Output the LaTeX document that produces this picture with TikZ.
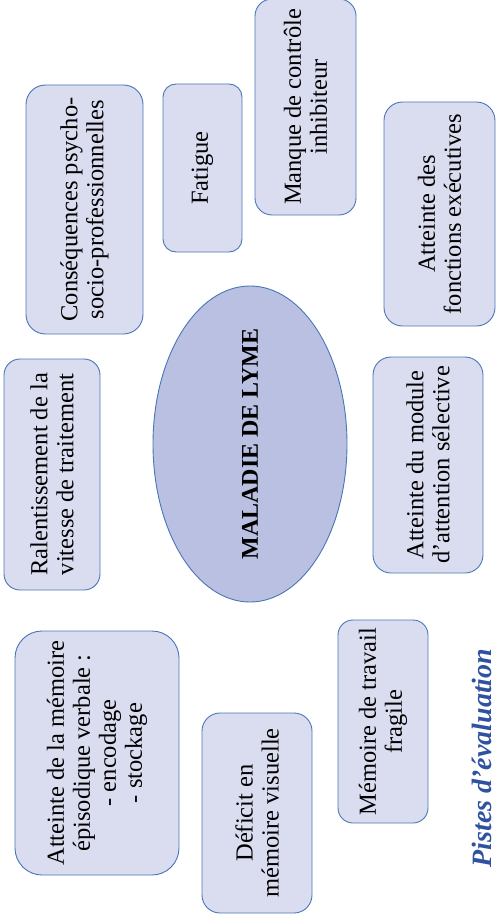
\documentclass[tikz,border=0pt]{standalone}
\usepackage{fontspec}
\setmainfont{Liberation Serif}
\usetikzlibrary{shapes.geometric}
\definecolor{boxfill}{HTML}{DADCEF}
\definecolor{ellfill}{HTML}{B9C0E2}
\definecolor{edge}{HTML}{4A76B8}
\definecolor{titleblue}{HTML}{2F52A0}
\tikzset{
  box/.style={draw=edge, line width=0.9pt, fill=boxfill, rotate=90, align=center,
    inner sep=0pt, font=\fontsize{24.5}{26}\selectfont},
  centre/.style={draw=edge, line width=0.9pt, fill=ellfill, ellipse, inner sep=0pt,
    minimum width=194pt, minimum height=316pt},
  heading/.style={rotate=90, inner sep=0pt, text=titleblue, font=\fontsize{28}{30}\selectfont\bfseries\itshape}
}
\begin{document}
\begin{tikzpicture}[x=1pt,y=-1pt]
\useasboundingbox (0,0) rectangle (496,923);
\node[box, minimum width=249pt, minimum height=117pt, rounded corners=19.5pt] (cons) at (84.5,209.5) {Conséquences psycho-\\socio-professionnelles};
\node[box, minimum width=168pt, minimum height=79pt, rounded corners=13pt] (fat) at (202.5,168) {Fatigue};
\node[box, minimum width=216pt, minimum height=101pt, rounded corners=17pt] (manq) at (305.5,107) {Manque de contrôle\\inhibiteur};
\node[box, minimum width=224pt, minimum height=111pt, rounded corners=18.5pt] (fonc) at (439.5,214) {Atteinte des\\fonctions exécutives};
\node[box, minimum width=231pt, minimum height=96pt, rounded corners=16pt] (ral) at (52,474.5) {Ralentissement de la\\vitesse de traitement};
\node[centre] (lyme) at (250,444) {};
\node[rotate=90, font=\fontsize{24}{26}\selectfont\bfseries] (lymetxt) at (lyme.center) {MALADIE DE LYME};
\node[box, minimum width=216pt, minimum height=110pt, rounded corners=18pt] (mod) at (428,465) {Atteinte du module\\d’attention sélective};
\node[box, minimum width=244pt, minimum height=164pt, rounded corners=27pt] (epi) at (97,753) {Atteinte de la mémoire\\épisodique verbale :\\- encodage\\- stockage};
\node[box, minimum width=200pt, minimum height=110pt, rounded corners=18pt] (def) at (257,813) {Déficit en\\mémoire visuelle};
\node[box, minimum width=203pt, minimum height=90pt, rounded corners=15pt] (trav) at (383,721.5) {Mémoire de travail\\fragile};
\node[heading] (pistes) at (482,758) {Pistes d’évaluation};
\end{tikzpicture}
\end{document}
